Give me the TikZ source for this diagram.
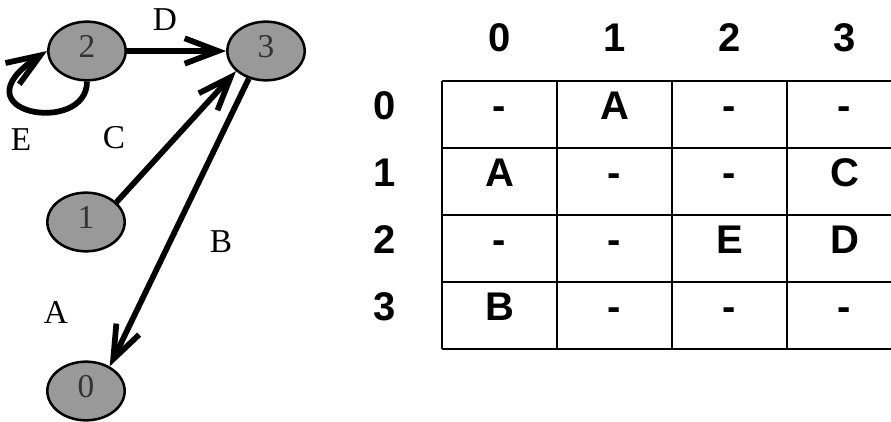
\documentclass[tikz,border=0pt]{standalone}
\usepackage{fontspec}
\setmainfont{Liberation Serif}
\setsansfont{Liberation Sans}
\usetikzlibrary{arrows.meta,shapes.geometric}
\definecolor{vertexgray}{RGB}{153,153,153}
\tikzset{
  vertex/.style={ellipse,draw,line width=1.9pt,fill=vertexgray,inner sep=0pt,
    minimum width=58pt,minimum height=44pt,text=black!80,
    text height=1em,text depth=0pt,font=\fontsize{25}{27}\selectfont},
  edge/.style={line width=4.3pt,-{Straight Barb[length=25pt,width=19pt]}},
  elabel/.style={font=\fontsize{25}{27}\selectfont},
  tabline/.style={line width=2pt},
  tabtext/.style={font=\sffamily\bfseries\fontsize{30}{34}\selectfont,
    text height=0.72em,text depth=0pt},
}

\begin{document}
\begin{tikzpicture}[x=0.75pt,y=0.75pt]
\useasboundingbox (0,0) rectangle (891,421);

%vertices
\node [vertex] (v2) at (87,370) {2};
\node [vertex] (v3) at (266,370) {3};
\node [vertex] (v1) at (86,199) {1};
\node [vertex] (v0) at (86,30) {0};

%edges
\draw [edge] (v2.east) -- (v3.west);
\draw [edge] (v1.33) -- (v3.214);
\draw [edge] (v3.238) -- (v0.46);
\draw [edge] (v2.south) .. controls +(0,-55) and +(-95,-62) .. (v2.west);

%edge labels
\node [elabel] (lD) at (165,401) {D};
\node [elabel] (lE) at (21,281) {E};
\node [elabel] (lC) at (114,283) {C};
\node [elabel] (lB) at (221,179) {B};
\node [elabel] (lA) at (56,109) {A};

%table lines
\foreach \x in {442,557,672,787,902}
  \draw [tabline] (\x,72) -- (\x,340);
\foreach \y in {72,139,206,273,340}
  \draw [tabline] (442,\y) -- (902,\y);

%row and column headings
\foreach \k in {0,...,3} {
  \node [tabtext] (col\k) at (499.5+115*\k,374) {\k};
  \node [tabtext] (row\k) at (385,306.5-67*\k) {\k};
}

%table entries
\foreach \v [count=\i from 0] in {-,A,-,-,A,-,-,C,-,-,E,D,B,-,-,-} {
  \pgfmathtruncatemacro\rowi{\i/4}
  \pgfmathtruncatemacro\coli{\i-4*\rowi}
  \node [tabtext] (cell\rowi\coli) at (499.5+115*\coli,306.5-67*\rowi) {\v};
}

\end{tikzpicture}
\end{document}
